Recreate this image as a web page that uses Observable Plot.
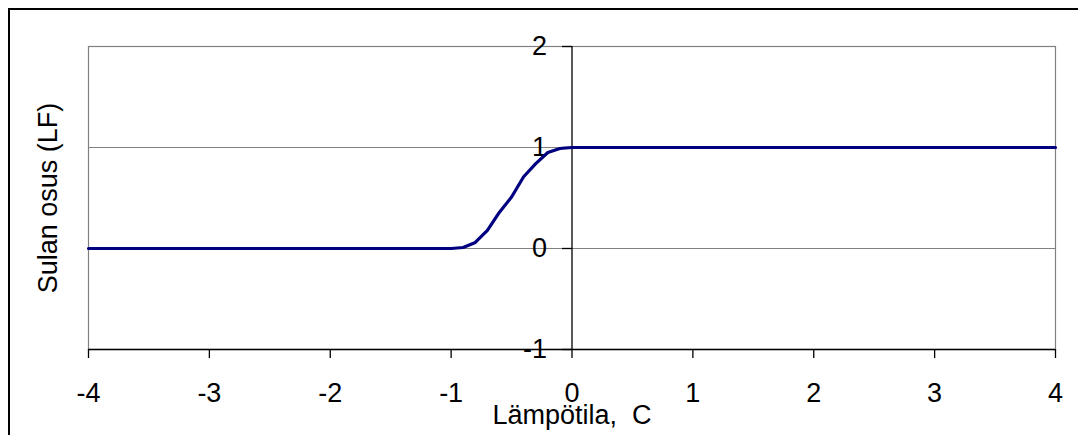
<!DOCTYPE html>
<html>
<head>
<meta charset="utf-8">
<script src="https://cdn.jsdelivr.net/npm/d3@7"></script>
<script src="https://cdn.jsdelivr.net/npm/@observablehq/plot@0.6"></script>
<style>
  html, body { margin: 0; padding: 0; background: #fff; }
  #wrap { position: relative; width: 1078px; height: 435px; overflow: hidden; }
  #border { position: absolute; left: 8px; top: 8px; width: 1200px; height: 600px; border-left: 2px solid #000; border-top: 2px solid #000; pointer-events: none; }
  svg { display: block; }
</style>
</head>
<body>
<div id="wrap"><div id="chart"></div><div id="border"></div></div>
<script>
// Data
const temperature = [-4, -1, -0.9, -0.8, -0.7, -0.6, -0.5, -0.4, -0.3, -0.2, -0.1, 0, 4];
const liquidFraction = [0, 0, 0.01, 0.06, 0.18, 0.36, 0.51, 0.71, 0.84, 0.95, 0.99, 1, 1];
const xTicks = [-4, -3, -2, -1, 0, 1, 2, 3, 4];
const yTicks = [-1, 0, 1, 2];
const gridY = [0, 1];
const xLabel = "Lämpötila,\u00a0\u00a0C";
const yLabel = "Sulan osus (LF)";

const data = temperature.map((t, i) => ({t, lf: liquidFraction[i]}));

const font = "'Liberation Sans', Arial, sans-serif";
const fs = 27;

// left-pointing tick symbol for the y axis at x = 0
const leftTick = { draw(ctx) { ctx.moveTo(-10, 0); ctx.lineTo(0, 0); } };

const chart = Plot.plot({
  width: 1078,
  height: 435,
  marginLeft: 88,
  marginRight: 23,
  marginTop: 46,
  marginBottom: 86,
  style: { fontFamily: font, fontSize: fs + "px", color: "#000", background: "#fff" },
  x: { domain: [-4, 4], label: null },
  y: { domain: [-1, 2], axis: null, label: null },
  marks: [
    Plot.frame({ stroke: "#808080", strokeWidth: 1.2 }),
    Plot.ruleY(gridY, { stroke: "#808080", strokeWidth: 1.2 }),
    Plot.ruleY([-1], { stroke: "#000", strokeWidth: 1.3 }),
    Plot.ruleX([0], { stroke: "#000", strokeWidth: 1.3 }),
    Plot.dot(yTicks, { x: () => 0, y: d => d, symbol: leftTick, stroke: "#000", strokeWidth: 1.3, fill: "none" }),
    Plot.text(yTicks, { x: () => 0, y: d => d, text: d => String(d), dx: -25, textAnchor: "end", lineAnchor: "middle", fontSize: fs }),
    Plot.axisX(xTicks, {
      anchor: "bottom",
      tickSize: 9,
      tickPadding: 24,
      fontSize: fs,
      stroke: "#000",
      strokeWidth: 1.3,
      tickFormat: d => String(d),
      label: null
    }),
    Plot.text([xLabel], { frameAnchor: "bottom", dy: 74, textAnchor: "middle", lineAnchor: "bottom", fontSize: fs }),
    Plot.text([yLabel], { frameAnchor: "left", dx: -40, rotate: -90, textAnchor: "middle", lineAnchor: "middle", fontSize: fs }),
    Plot.line(data, { x: "t", y: "lf", stroke: "#000080", strokeWidth: 3.2, curve: "linear" })
  ]
});
document.getElementById("chart").appendChild(chart);
</script>
</body>
</html>
